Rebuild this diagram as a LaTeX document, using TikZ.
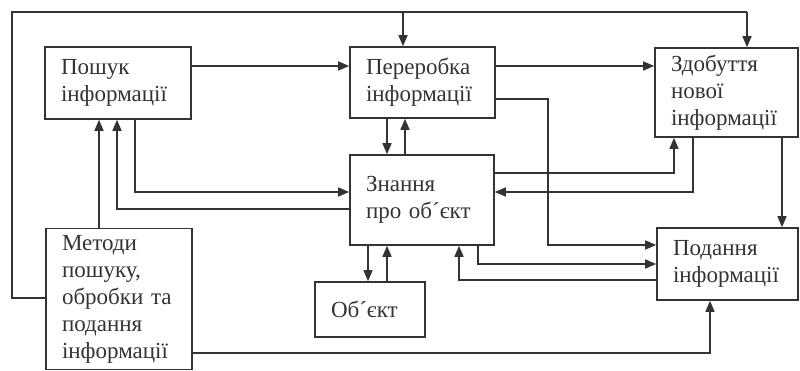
\documentclass[tikz,border=0pt]{standalone}
\usepackage{fontspec}
\setmainfont{Liberation Serif}
\usetikzlibrary{arrows.meta}
\begin{document}
\begin{tikzpicture}[x=1pt,y=-1pt,
  box/.style={draw=black!80,line width=1.6pt,rectangle,align=left,inner xsep=16pt,inner ysep=0pt,
    font=\fontsize{23}{27}\selectfont,text=black!80},
  arr/.style={draw=black!80,line width=1.5pt,-{Triangle[length=11pt,width=9pt]}},
  ln/.style={draw=black!80,line width=1.5pt}]
\useasboundingbox (0,0) rectangle (800,371);
% boxes
\node[box,text width=114pt,minimum height=72pt] (poshuk) at (118,83) {Пошук\\інформації};
\node[box,text width=113pt,minimum height=71pt] (pererobka) at (422.5,82.5) {Переробка\\інформації};
\node[box,text width=111pt,minimum height=89pt] (zdobuttya) at (726.5,92.5) {Здобуття\\нової\\інформації};
\node[box,text width=112pt,minimum height=90pt] (znannya) at (422,200) {Знання\\про об´єкт};
\node[box,text width=78pt,minimum height=55pt] (obyekt) at (370,309.5) {Об´єкт};
\node[box,text width=114pt,minimum height=141pt] (metody) at (119,299) {Методи\\пошуку,\\обробки та\\подання\\інформації};
\node[box,text width=109pt,minimum height=72pt] (podannya) at (727.5,264) {Подання\\інформації};
% helper levels
\coordinate (y66) at (0,66);
\coordinate (y99) at (0,99);
\coordinate (y173) at (0,173);
\coordinate (y192) at (0,192);
\coordinate (y209) at (0,209);
\coordinate (y245) at (0,245);
\coordinate (y264) at (0,264);
\coordinate (y280) at (0,280);
\coordinate (y298) at (0,298);
\coordinate (y353) at (0,353);
\coordinate (x99) at (99,0);
\coordinate (x117) at (117,0);
\coordinate (x135) at (135,0);
\coordinate (x368) at (368,0);
\coordinate (x387) at (387,0);
\coordinate (x405) at (405,0);
\coordinate (x403) at (403,0);
\coordinate (x459) at (459,0);
\coordinate (x478) at (478,0);
\coordinate (x548) at (548,0);
\coordinate (x674) at (674,0);
\coordinate (x693) at (693,0);
\coordinate (x710) at (710,0);
\coordinate (x747) at (747,0);
\coordinate (x782) at (782,0);
\coordinate (cornerA) at (12,298);
\coordinate (cornerB) at (12,12);
\coordinate (topP) at (403,12);
\coordinate (topZ) at (747,12);
% connectors
\draw[arr] (poshuk.east |- y66) -- (pererobka.west |- y66);
\draw[arr] (pererobka.east |- y66) -- (zdobuttya.west |- y66);
\draw[arr] (pererobka.south -| x387) -- (znannya.north -| x387);
\draw[arr] (znannya.north -| x405) -- (pererobka.south -| x405);
\draw[arr] (poshuk.south -| x135) |- (znannya.west |- y192);
\draw[arr] (znannya.west |- y209) -| (poshuk.south -| x117);
\draw[arr] (metody.north -| x99) -- (poshuk.south -| x99);
\draw[arr] (znannya.east |- y173) -| (zdobuttya.south -| x674);
\draw[arr] (zdobuttya.south -| x693) |- (znannya.east |- y192);
\draw[arr] (pererobka.east |- y99) -| (x548 |- y245) -- (podannya.west |- y245);
\draw[arr] (znannya.south -| x478) |- (podannya.west |- y264);
\draw[arr] (podannya.west |- y280) -| (znannya.south -| x459);
\draw[arr] (zdobuttya.south -| x782) -- (podannya.north -| x782);
\draw[arr] (metody.east |- y353) -| (podannya.south -| x710);
\draw[arr] (znannya.south -| x368) -- (obyekt.north -| x368);
\draw[arr] (obyekt.north -| x387) -- (znannya.south -| x387);
\draw[ln] (metody.west |- y298) -- (cornerA) -- (cornerB) -- (topZ);
\draw[arr] (topZ) -- (zdobuttya.north -| x747);
\draw[arr] (topP) -- (pererobka.north -| x403);
\end{tikzpicture}
\end{document}
